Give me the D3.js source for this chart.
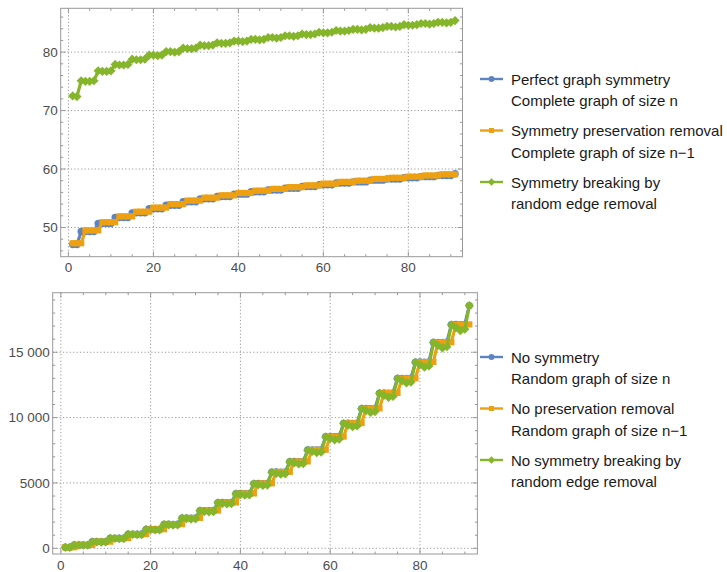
<!DOCTYPE html>
<html><head><meta charset="utf-8">
<script src="https://cdn.jsdelivr.net/npm/d3@7"></script>
<style>body{margin:0;background:#fff}svg{display:block}</style>
</head><body>
<script>
// ---------- DATA ----------
const nValues = [1,2,3,4,5,6,7,8,9,10,11,12,13,14,15,16,17,18,19,20,21,22,23,24,25,26,27,28,29,30,31,32,33,34,35,36,37,38,39,40,41,42,43,44,45,46,47,48,49,50,51,52,53,54,55,56,57,58,59,60,61,62,63,64,65,66,67,68,69,70,71,72,73,74,75,76,77,78,79,80,81,82,83,84,85,86,87,88,89,90,91];

// Top panel
const topPerfect = [47.1,47.1,
 49.3,49.3,49.3,49.3, 50.7,50.7,50.7,50.7, 51.7,51.7,51.7,51.7, 52.5,52.5,52.5,52.5,
 53.2,53.2,53.2,53.2, 53.8,53.8,53.8,53.8, 54.4,54.4,54.4,54.4, 54.9,54.9,54.9,54.9,
 55.3,55.3,55.3,55.3, 55.7,55.7,55.7,55.7, 56.1,56.1,56.1,56.1, 56.4,56.4,56.4,56.4,
 56.7,56.7,56.7,56.7, 57.0,57.0,57.0,57.0, 57.3,57.3,57.3,57.3, 57.6,57.6,57.6,57.6,
 57.8,57.8,57.8,57.8, 58.1,58.1,58.1,58.1, 58.3,58.3,58.3,58.3, 58.5,58.5,58.5,58.5,
 58.7,58.7,58.7,58.7, 58.9,58.9,58.9,58.9, 59.2];
const topPreserve = [47.3,47.3,47.3,
 49.5,49.5,49.5,49.5, 50.9,50.9,50.9,50.9, 51.9,51.9,51.9,51.9, 52.7,52.7,52.7,52.7,
 53.4,53.4,53.4,53.4, 54.0,54.0,54.0,54.0, 54.6,54.6,54.6,54.6, 55.1,55.1,55.1,55.1,
 55.5,55.5,55.5,55.5, 55.9,55.9,55.9,55.9, 56.3,56.3,56.3,56.3, 56.6,56.6,56.6,56.6,
 56.9,56.9,56.9,56.9, 57.2,57.2,57.2,57.2, 57.5,57.5,57.5,57.5, 57.8,57.8,57.8,57.8,
 58.0,58.0,58.0,58.0, 58.3,58.3,58.3,58.3, 58.5,58.5,58.5,58.5, 58.7,58.7,58.7,58.7,
 58.9,58.9,58.9,58.9, 59.1,59.1,59.1,59.1];
const topBreaking = [72.5,72.4,
 75.1,75.0,75.0,75.1, 76.8,76.7,76.7,76.8, 77.9,77.8,77.8,77.9, 78.8,78.7,78.7,78.8,
 79.5,79.5,79.4,79.5, 80.1,80.1,80.0,80.1, 80.7,80.6,80.6,80.7, 81.2,81.1,81.1,81.2,
 81.6,81.5,81.5,81.6, 81.9,81.9,81.8,81.9, 82.2,82.2,82.1,82.2, 82.5,82.5,82.4,82.5,
 82.8,82.8,82.7,82.8, 83.1,83.0,83.0,83.1, 83.4,83.3,83.3,83.4, 83.7,83.6,83.6,83.7,
 83.9,83.9,83.8,83.9, 84.2,84.1,84.1,84.2, 84.4,84.4,84.3,84.4, 84.7,84.6,84.6,84.7,
 84.9,84.9,84.8,84.9, 85.1,85.1,85.0,85.1, 85.4];

// Bottom panel
const botNoSym = [80,85,
 250,255,250,260, 500,505,500,510, 770,775,770,780, 1080,1085,1080,1090,
 1450,1455,1450,1460, 1830,1840,1830,1850, 2310,2320,2310,2330, 2870,2880,2870,2890,
 3490,3500,3490,3510, 4180,4190,4180,4200, 4950,4960,4950,4970, 5830,5840,5830,5850,
 6630,6640,6630,6650, 7520,7530,7520,7540, 8530,8540,8530,8550, 9560,9570,9560,9580,
 10690,10700,10690,10710, 11870,11880,11870,11890, 12990,13000,12990,13010, 14240,14250,14240,14260,
 15750,15760,15750,15770, 17110,17120,17110,17130, 18570];
const botNoPreserve = [80,85,80,
 250,255,250,260, 500,505,500,510, 770,775,770,780, 1080,1085,1080,1090,
 1450,1455,1450,1460, 1830,1840,1830,1850, 2310,2320,2310,2330, 2870,2880,2870,2890,
 3490,3500,3490,3510, 4180,4190,4180,4200, 4950,4960,4950,4970, 5830,5840,5830,5850,
 6630,6640,6630,6650, 7520,7530,7520,7540, 8530,8540,8530,8550, 9560,9570,9560,9580,
 10690,10700,10690,10710, 11870,11880,11870,11890, 12990,13000,12990,13010, 14240,14250,14240,14260,
 15750,15760,15750,15770, 17110,17120,17110,17130];
const botNoBreaking = [75,70,
 250,240,235,240, 500,490,480,485, 765,750,740,745, 1075,1055,1040,1050,
 1445,1420,1400,1410, 1830,1800,1775,1790, 2305,2270,2240,2255, 2865,2820,2785,2800,
 3480,3430,3390,3410, 4170,4110,4060,4080, 4940,4870,4810,4840, 5820,5740,5670,5700,
 6620,6530,6450,6480, 7510,7410,7320,7360, 8520,8410,8300,8350, 9550,9420,9300,9360,
 10680,10540,10400,10460, 11860,11700,11550,11620, 12980,12810,12650,12720, 14230,14050,13860,13950,
 15740,15530,15330,15420, 17100,16880,16650,16760, 18570];

const xTicks = [0,20,40,60,80];
const topYTicks = [50,60,70,80];
const botYTicks = [0,5000,10000,15000];
const botYTickLabels = ["0","5000","10 000","15 000"];

const topLegend = [["Perfect graph symmetry","Complete graph of size n"],
                   ["Symmetry preservation removal","Complete graph of size n\u22121"],
                   ["Symmetry breaking by","random edge removal"]];
const botLegend = [["No symmetry","Random graph of size n"],
                   ["No preservation removal","Random graph of size n\u22121"],
                   ["No symmetry breaking by","random edge removal"]];

// ---------- STYLE ----------
const colors = ["#5d84c2","#eda012","#85b52a"];
const shapes = ["circle","square","diamond"];
const W = 727, H = 572;
const svg = d3.select("body").append("svg").attr("width",W).attr("height",H);
svg.append("rect").attr("width",W).attr("height",H).attr("fill","#fff");

function marker(g, shape, x, y, s, color){
  if(shape==="circle") g.append("circle").attr("cx",x).attr("cy",y).attr("r",3.7*s).attr("fill",color);
  else if(shape==="square") g.append("rect").attr("x",x-3.1*s).attr("y",y-3.1*s).attr("width",6.2*s).attr("height",6.2*s).attr("fill",color);
  else g.append("path").attr("d",`M${x},${y-4.6*s}L${x+4.6*s},${y}L${x},${y+4.6*s}L${x-4.6*s},${y}Z`).attr("fill",color);
}

function panel(opts){
  const {left,right,top,bottom,xDom,yDom,yTicks,yLabels,yMinorStep,series,id} = opts;
  const x = d3.scaleLinear().domain(xDom).range([left,right]);
  const y = d3.scaleLinear().domain(yDom).range([bottom,top]);
  const g = svg.append("g");
  // grid
  const grid = g.append("g").attr("stroke","#999").attr("stroke-width",1).attr("stroke-dasharray","1.2,2.2");
  xTicks.forEach(t=>grid.append("line").attr("x1",x(t)).attr("x2",x(t)).attr("y1",top).attr("y2",bottom));
  yTicks.forEach(t=>grid.append("line").attr("y1",y(t)).attr("y2",y(t)).attr("x1",left).attr("x2",right));
  // clip
  svg.append("clipPath").attr("id",id).append("rect").attr("x",left).attr("y",top).attr("width",right-left).attr("height",bottom-top);
  const plot = g.append("g").attr("clip-path",`url(#${id})`);
  series.forEach((vals,i)=>{
    const pts = nValues.map((n,k)=>[n, vals[k]]).filter(d=>d[1]!==undefined);
    plot.append("path").attr("d", d3.line().x(d=>x(d[0])).y(d=>y(d[1]))(pts))
      .attr("fill","none").attr("stroke",colors[i]).attr("stroke-width",3.2).attr("stroke-linejoin","round");
    const mg = plot.append("g");
    pts.forEach(d=>marker(mg, shapes[i], x(d[0]), y(d[1]), 1, colors[i]));
  });
  // frame
  const fr = g.append("g").attr("stroke","#999").attr("stroke-width",1).attr("fill","none");
  fr.append("rect").attr("x",left).attr("y",top).attr("width",right-left).attr("height",bottom-top);
  const xMinor = d3.range(0, xDom[1], 5);
  xMinor.forEach(t=>{
    const L = (t%20===0)?5:2.5;
    fr.append("line").attr("x1",x(t)).attr("x2",x(t)).attr("y1",bottom).attr("y2",bottom-L);
    fr.append("line").attr("x1",x(t)).attr("x2",x(t)).attr("y1",top).attr("y2",top+L);
  });
  const yMinor = d3.range(Math.ceil(yDom[0]/yMinorStep)*yMinorStep, yDom[1], yMinorStep);
  yMinor.forEach(t=>{
    const L = yTicks.some(v=>Math.abs(v-t)<1e-6)?5:2.5;
    fr.append("line").attr("y1",y(t)).attr("y2",y(t)).attr("x1",left).attr("x2",left+L);
    fr.append("line").attr("y1",y(t)).attr("y2",y(t)).attr("x1",right).attr("x2",right-L);
  });
  // labels
  const lab = g.append("g").attr("fill","#4d4d4d").attr("font-family","'Liberation Sans',Arial,sans-serif").attr("font-size","13.5px");
  xTicks.forEach(t=>lab.append("text").attr("x",x(t)).attr("y",bottom+15.5).attr("text-anchor","middle").text(t));
  yTicks.forEach((t,i)=>lab.append("text").attr("x",left-3).attr("y",y(t)+4.8).attr("text-anchor","end").text(yLabels[i]));
}

function legend(items, x0, y0){
  const g = svg.append("g").attr("font-family","'Liberation Sans',Arial,sans-serif").attr("font-size","15px").attr("fill","#1a1a1a");
  items.forEach((lines,i)=>{
    const yy = y0 + i*51.5;
    g.append("line").attr("x1",x0).attr("x2",x0+23).attr("y1",yy).attr("y2",yy).attr("stroke",colors[i]).attr("stroke-width",2.4);
    marker(g, shapes[i], x0+11.5, yy, 0.8, colors[i]);
    lines.forEach((t,j)=>g.append("text").attr("x",x0+31).attr("y",yy+5.5+j*21.5).text(t));
  });
}

panel({left:60.7,right:462.5,top:8.3,bottom:256.7,xDom:[-1.82,92.75],yDom:[45.0,87.5],
  yTicks:topYTicks,yLabels:topYTicks.map(String),yMinorStep:2,
  series:[topPerfect,topPreserve,topBreaking],id:"c1"});
panel({left:52.7,right:477.4,top:292.7,bottom:554,xDom:[-1.82,92.8],yDom:[-436,19557],
  yTicks:botYTicks,yLabels:botYTickLabels,yMinorStep:1000,
  series:[botNoSym,botNoPreserve,botNoBreaking],id:"c2"});

legend(topLegend, 480, 79);
legend(botLegend, 480, 357);
</script>
</body></html>
